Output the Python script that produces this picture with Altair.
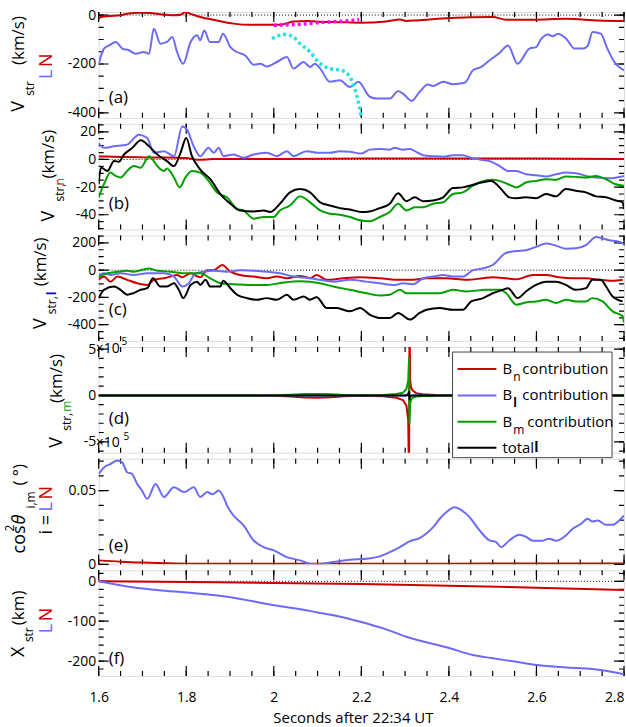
import altair as alt
import pandas as pd

FONT = "Open Sans"
W, H, GAP = 527, 106, 6
T_DOMAIN = [1.6, 2.8]

RED, BLUE, GREEN, BLACK = "#CC0000", "#6B6BF5", "#00A000", "#000000"
MAGENTA, CYAN = "#FF00FF", "#1EE3E3"

X_MAJOR = [1.6, 1.8, 2.0, 2.2, 2.4, 2.6, 2.8]
X_MINOR = [1.6, 1.65, 1.7, 1.75, 1.8, 1.85, 1.9, 1.95, 2.0, 2.05, 2.1, 2.15, 2.2,
           2.25, 2.3, 2.35, 2.4, 2.45, 2.5, 2.55, 2.6, 2.65, 2.7, 2.75, 2.8]
X_TITLE = "Seconds after 22:34 UT"

# ---------------- (a) V_str in L (blue) and N (red) ----------------
a_red_t = [1.600, 1.605, 1.627, 1.650, 1.665, 1.696, 1.718, 1.741, 1.772, 1.787, 1.798, 1.810,
           1.832, 1.870, 1.908, 1.946, 1.984, 2.014, 2.045, 2.075, 2.101, 2.150, 2.197, 2.257,
           2.288, 2.303, 2.326, 2.402, 2.500, 2.531, 2.592, 2.667, 2.743, 2.800]
a_red_v = [-15, -8, -4, -1, 5, 9, 8, 3, -1, 1, 12, 5, -8, -22, -35, -40, -40, -40, -26, -24,
           -27, -29, -31, -26, -18, -24, -22, -12, -8, -19, -19, -15, -22, -24]
a_blue_t = [1.600, 1.612, 1.624, 1.639, 1.654, 1.669, 1.684, 1.703, 1.715, 1.726, 1.741, 1.756,
            1.768, 1.779, 1.793, 1.810, 1.825, 1.832, 1.841, 1.854, 1.874, 1.884, 1.901, 1.916,
            1.935, 1.954, 1.969, 1.984, 2.007, 2.030, 2.045, 2.068, 2.083, 2.094, 2.106, 2.128,
            2.151, 2.174, 2.193, 2.220, 2.235, 2.265, 2.284, 2.295, 2.315, 2.333, 2.352, 2.364,
            2.387, 2.409, 2.436, 2.455, 2.474, 2.493, 2.516, 2.535, 2.557, 2.584, 2.599, 2.611,
            2.626, 2.637, 2.649, 2.668, 2.687, 2.706, 2.717, 2.728, 2.747, 2.762, 2.778, 2.800]
a_blue_v = [-199, -137, -124, -110, -137, -144, -158, -151, -158, -56, -117, -110, -90, -151,
            -199, -110, -83, -103, -63, -110, -110, -76, -131, -151, -165, -203, -199, -210,
            -192, -171, -219, -192, -212, -199, -219, -273, -267, -294, -273, -335, -341, -341,
            -311, -321, -351, -314, -284, -290, -273, -283, -277, -226, -212, -185, -154, -124,
            -199, -137, -131, -97, -79, -87, -76, -97, -137, -137, -126, -69, -76, -137, -192, -226]
a_mag_t = [2.000, 2.030, 2.060, 2.100, 2.150, 2.195]
a_mag_v = [-42, -40, -38, -31, -26, -19]
a_cyan_t = [1.996, 2.010, 2.022, 2.035, 2.045, 2.060, 2.083, 2.102, 2.128, 2.155, 2.174, 2.185,
            2.193, 2.200]
a_cyan_v = [-97, -85, -79, -82, -90, -117, -151, -192, -219, -226, -253, -301, -355, -415]

# ---------------- (b) V_str,n contributions ----------------
b_red_t = [1.6, 1.65, 1.7, 1.75, 1.8, 1.83, 1.86, 1.9, 2.0, 2.2, 2.4, 2.6, 2.8]
b_red_v = [2.2, 1.8, 1.5, 1.4, 1.0, -0.3, 0.3, 0.4, 0.4, 0.7, 0.6, 0.6, 0.4]
b_blue_t = [1.600, 1.612, 1.635, 1.665, 1.692, 1.711, 1.726, 1.749, 1.772, 1.791, 1.802, 1.817,
            1.832, 1.851, 1.863, 1.874, 1.885, 1.908, 1.931, 1.954, 1.984, 2.007, 2.030, 2.045,
            2.075, 2.101, 2.128, 2.151, 2.174, 2.200, 2.219, 2.242, 2.265, 2.276, 2.295, 2.311,
            2.322, 2.341, 2.364, 2.387, 2.409, 2.432, 2.451, 2.470, 2.493, 2.516, 2.535, 2.554,
            2.576, 2.599, 2.622, 2.645, 2.667, 2.690, 2.713, 2.736, 2.766, 2.800]
b_blue_v = [11.9, 8.4, 9.5, 10.7, 17.9, 15.5, 4.8, 6.0, 2.4, 23.8, 21.4, 9.5, 2.4, 8.4, 4.8, 8.4,
            2.4, 3.6, 1.2, 3.6, 4.8, 2.4, 6.0, 2.4, 6.0, 4.8, 4.8, 6.0, 5.5, 4.3, 7.1, 7.6, 7.1,
            8.4, 7.1, 7.6, 6.0, 3.1, 2.4, 1.9, 3.1, 3.1, 1.2, 0.0, -1.2, -4.8, -8.3, -8.3, -10.7,
            -11.4, -12.4, -10.7, -9.5, -9.9, -11.9, -13.1, -13.6, -11.9]
b_green_t = [1.600, 1.612, 1.627, 1.639, 1.650, 1.665, 1.680, 1.696, 1.715, 1.734, 1.749, 1.756,
             1.772, 1.785, 1.798, 1.813, 1.832, 1.851, 1.870, 1.893, 1.916, 1.931, 1.954, 1.977,
             2.000, 2.014, 2.037, 2.060, 2.083, 2.106, 2.128, 2.151, 2.174, 2.197, 2.219, 2.242,
             2.265, 2.284, 2.303, 2.322, 2.341, 2.364, 2.387, 2.409, 2.432, 2.455, 2.474, 2.497,
             2.516, 2.535, 2.554, 2.576, 2.599, 2.622, 2.645, 2.667, 2.690, 2.713, 2.736, 2.759,
             2.781, 2.800]
b_green_v = [-27.4, -17.9, -9.5, -11.9, -13.1, -8.3, -4.8, -6.0, 2.4, -4.8, -8.3, -6.6, -13.1,
             -20.2, -13.1, -8.3, -9.5, -15.5, -23.8, -27.4, -35.7, -36.9, -42.8, -41.6, -41.6,
             -36.9, -33.3, -26.7, -31, -36.9, -39.3, -40, -41.6, -44, -44.7, -41.6, -38, -32,
             -36.9, -34.5, -34.5, -32, -31, -25, -23.8, -19, -16.1, -14.7, -15.5, -17.9, -20.2,
             -16.7, -15.5, -14.3, -14.7, -12.4, -12.6, -13.1, -11.9, -14.3, -17.9, -19]
b_black_t = [1.600, 1.605, 1.620, 1.635, 1.646, 1.658, 1.677, 1.696, 1.715, 1.734, 1.756, 1.772,
             1.787, 1.800, 1.813, 1.832, 1.855, 1.878, 1.901, 1.923, 1.954, 1.977, 1.992, 2.014,
             2.037, 2.060, 2.083, 2.106, 2.128, 2.151, 2.174, 2.200, 2.219, 2.242, 2.265, 2.284,
             2.303, 2.322, 2.341, 2.364, 2.387, 2.409, 2.432, 2.455, 2.474, 2.497, 2.516, 2.538,
             2.554, 2.576, 2.599, 2.622, 2.645, 2.667, 2.690, 2.713, 2.736, 2.759, 2.781, 2.797,
             2.800]
b_black_v = [-17.9, -5.9, -8.3, -1.2, -1.6, 3.6, 8.4, 13.8, 9.5, 3.6, -1.2, -4.8, 4.8, 15.5, 2.4,
             -7.3, -14.3, -25, -32, -36.9, -37.6, -36.9, -38, -32, -23.8, -21.4, -23.8, -31,
             -33.3, -35.2, -36.2, -38, -37.6, -35.2, -32, -24.5, -30.2, -27.4, -30.2, -29.7,
             -27.4, -20.7, -20.2, -18.3, -16.7, -15.5, -20.2, -27.4, -28.1, -27.4, -28.1, -25,
             -26.7, -21.4, -22.6, -23.8, -26.7, -27.4, -29.7, -31, -36]

# ---------------- (c) V_str,l contributions ----------------
c_red_t = [1.600, 1.612, 1.627, 1.643, 1.665, 1.688, 1.711, 1.726, 1.749, 1.764, 1.779, 1.791,
           1.810, 1.832, 1.848, 1.863, 1.882, 1.901, 1.923, 1.954, 1.984, 2.007, 2.030, 2.060,
           2.083, 2.098, 2.121, 2.159, 2.197, 2.242, 2.288, 2.318, 2.349, 2.394, 2.440, 2.478,
           2.500, 2.531, 2.554, 2.592, 2.622, 2.652, 2.683, 2.713, 2.743, 2.774, 2.797]
c_red_v = [-71, -47, -84, -47, -71, -96, -108, -71, -59, -47, -35, -52, -23, -52, 0, 0, 38, -11,
           -35, -47, -59, -47, -59, -42, -59, -35, -71, -59, -52, -59, -71, -71, -59, -59, -71,
           -59, -52, -59, -66, -35, -35, -52, -59, -59, -71, -78, -71]
c_blue_t = [1.600, 1.612, 1.627, 1.650, 1.680, 1.711, 1.726, 1.749, 1.772, 1.791, 1.806, 1.821,
            1.840, 1.863, 1.893, 1.923, 1.954, 1.984, 2.014, 2.045, 2.060, 2.083, 2.106, 2.136,
            2.174, 2.212, 2.242, 2.276, 2.295, 2.318, 2.341, 2.364, 2.387, 2.409, 2.432, 2.455,
            2.478, 2.500, 2.531, 2.554, 2.576, 2.599, 2.622, 2.640, 2.667, 2.690, 2.713, 2.736,
            2.766, 2.790, 2.800]
c_blue_v = [-35, -23, -35, -23, -35, -23, -23, -23, -47, -120, -96, -23, -11, -4, -11, 0, -4, -11,
            -23, -47, -52, -59, -71, -84, -71, -84, -96, -108, -96, -103, -59, -47, -35, -47, -47,
            0, 13, 38, 128, 140, 146, 171, 195, 185, 158, 160, 183, 243, 220, 207, 190]
c_green_t = [1.600, 1.620, 1.643, 1.665, 1.680, 1.715, 1.734, 1.764, 1.802, 1.832, 1.855, 1.878,
             1.908, 1.954, 1.984, 2.022, 2.060, 2.106, 2.136, 2.174, 2.212, 2.242, 2.265, 2.288,
             2.303, 2.341, 2.379, 2.409, 2.440, 2.485, 2.516, 2.531, 2.554, 2.576, 2.599, 2.622,
             2.645, 2.667, 2.690, 2.713, 2.728, 2.751, 2.774, 2.797, 2.800]
c_green_v = [-47, -23, -11, -4, -11, 13, -4, -11, -23, -23, -60, -96, -103, -108, -108, -91, -82,
             -96, -120, -144, -169, -186, -180, -144, -169, -169, -169, -144, -156, -144, -144,
             -169, -253, -237, -229, -217, -241, -217, -229, -229, -205, -229, -302, -338, -385]
c_black_t = [1.600, 1.612, 1.635, 1.650, 1.665, 1.680, 1.696, 1.711, 1.724, 1.741, 1.756, 1.772,
             1.783, 1.793, 1.810, 1.825, 1.832, 1.844, 1.855, 1.878, 1.884, 1.901, 1.916, 1.939,
             1.961, 1.984, 2.007, 2.030, 2.045, 2.068, 2.083, 2.098, 2.121, 2.144, 2.174, 2.197,
             2.219, 2.242, 2.265, 2.284, 2.311, 2.333, 2.349, 2.379, 2.409, 2.432, 2.451, 2.478,
             2.500, 2.523, 2.535, 2.557, 2.576, 2.599, 2.622, 2.645, 2.667, 2.690, 2.713, 2.728,
             2.747, 2.759, 2.774, 2.797]
c_black_v = [-205, -144, -120, -144, -180, -168, -144, -132, -60, -120, -120, -96, -144, -205,
             -108, -84, -108, -71, -120, -120, -77, -132, -180, -205, -217, -205, -217, -180,
             -217, -193, -217, -198, -278, -278, -302, -278, -326, -350, -350, -314, -362, -314,
             -290, -278, -290, -290, -229, -205, -169, -144, -132, -205, -156, -108, -84, -84,
             -108, -144, -132, -71, -71, -120, -193, -229]

# ---------------- (d) V_str,m contributions ----------------
d_red_t = [1.60, 1.95, 2.00, 2.04, 2.07, 2.10, 2.13, 2.16, 2.20, 2.25, 2.28, 2.295, 2.303, 2.307,
           2.3090, 2.3100, 2.3115, 2.314, 2.318, 2.325, 2.34, 2.37, 2.42, 2.50, 2.80]
d_red_v = [0, 0, -3e3, -1.2e4, -2.2e4, -2.5e4, -2.0e4, -8e3, -4e3, -1e4, -2.5e4, -5e4, -1.1e5,
           -2.6e5, -9e5, 9e5, 1.6e5, 8e4, 5e4, 2.5e4, 1.2e4, 5e3, 2e3, 0, 0]
d_blue_t = [1.60, 2.80]
d_blue_v = [0, 0]
d_green_t = [1.60, 1.95, 2.00, 2.04, 2.07, 2.10, 2.13, 2.16, 2.20, 2.25, 2.28, 2.295, 2.303,
             2.307, 2.3090, 2.3100, 2.3115, 2.314, 2.318, 2.325, 2.34, 2.37, 2.42, 2.50, 2.80]
d_green_v = [0, 0, 2e3, 8e3, 1.5e4, 1.6e4, 1.2e4, 5e3, 2e3, 6e3, 1.5e4, 3e4, 7e4, 1.6e5, 4e5,
             -3e5, -9e4, -4e4, -2.5e4, -1.2e4, -6e3, -3e3, -1e3, 0, 0]
d_black_t = [1.60, 2.300, 2.306, 2.3090, 2.3100, 2.312, 2.318, 2.80]
d_black_v = [0, 0, 5e3, 4e4, -4e4, -5e3, 0, 0]
legend_labels = ["contribution", "contribution", "contribution", "total"]
legend_subs = ["n", "l", "m", ""]

# ---------------- (e) cos^2 theta ----------------
e_red_t = [1.6, 1.65, 1.7, 1.75, 1.8, 1.9, 2.0, 2.2, 2.4, 2.6, 2.8]
e_red_v = [0.0027, 0.0018, 0.0012, 0.0008, 0.0005, 0.0004, 0.0004, 0.0005, 0.0005, 0.0006, 0.0006]
e_blue_t = [1.600, 1.612, 1.627, 1.643, 1.654, 1.665, 1.676, 1.688, 1.699, 1.711, 1.730, 1.749,
            1.772, 1.795, 1.817, 1.832, 1.848, 1.860, 1.874, 1.885, 1.893, 1.908, 1.931, 1.954,
            1.977, 2.000, 2.030, 2.060, 2.083, 2.106, 2.136, 2.174, 2.212, 2.242, 2.265, 2.288,
            2.311, 2.333, 2.352, 2.364, 2.379, 2.394, 2.413, 2.432, 2.447, 2.470, 2.493, 2.508,
            2.519, 2.538, 2.561, 2.576, 2.592, 2.614, 2.629, 2.645, 2.667, 2.683, 2.702, 2.717,
            2.728, 2.740, 2.759, 2.774, 2.789, 2.800]
e_blue_v = [0.0613, 0.0657, 0.068, 0.0703, 0.069, 0.0624, 0.0613, 0.0545, 0.050, 0.0444, 0.0545,
            0.0457, 0.0522, 0.049, 0.0522, 0.0457, 0.049, 0.0475, 0.050, 0.0457, 0.040, 0.0331,
            0.0264, 0.0162, 0.0117, 0.0095, 0.0049, 0.0027, 0.0005, 0.0003, 0.0016, 0.0032,
            0.0038, 0.0054, 0.0083, 0.0117, 0.0157, 0.0178, 0.0218, 0.0252, 0.0309, 0.0353,
            0.0387, 0.036, 0.032, 0.023, 0.0162, 0.0151, 0.0117, 0.0162, 0.0201, 0.0187, 0.016,
            0.016, 0.0174, 0.016, 0.0196, 0.0241, 0.0275, 0.0309, 0.029, 0.0297, 0.0268, 0.0268,
            0.0297, 0.0331]

# ---------------- (f) X_str ----------------
f_red_t = [1.6, 1.8, 2.0, 2.2, 2.4, 2.6, 2.8]
f_red_v = [0, -2, -4, -7, -11, -16, -22]
f_blue_t = [1.600, 1.689, 1.788, 1.901, 2.000, 2.060, 2.100, 2.136, 2.200, 2.250, 2.303, 2.402,
            2.455, 2.500, 2.554, 2.601, 2.667, 2.728, 2.800]
f_blue_v = [0, -17, -27, -40, -60, -70, -78, -85, -102, -118, -139, -168, -185, -193, -202,
            -210, -216, -220, -233]

ONE = pd.DataFrame({"k": [0]})
XS = alt.Scale(domain=T_DOMAIN, nice=False, zero=False)
MAJOR_LEN, MINOR_LEN = 10, 5


def yscale(dom):
    return alt.Scale(domain=dom, nice=False, zero=False)


def curve(t, v, ys, color, width=2.0, dash=None, interp="monotone"):
    props = dict(color=color, strokeWidth=width, clip=True, strokeJoin="round",
                 interpolate=interp)
    if dash is not None:
        props.update(strokeDash=dash, strokeCap="butt")
    return alt.Chart(pd.DataFrame({"t": t, "v": v})).mark_line(**props).encode(
        x=alt.X("t:Q", scale=XS, axis=None),
        y=alt.Y("v:Q", scale=ys, axis=None))


def zero_line(ys):
    return alt.Chart(pd.DataFrame({"v": [0]})).mark_rule(
        color="black", strokeWidth=1, strokeDash=[1, 2]).encode(
        y=alt.Y("v:Q", scale=ys, axis=None))


def text(s, x, y, size=18, color="black", angle=0, align="left", baseline="middle",
         style="normal", weight="normal"):
    return alt.Chart(ONE).mark_text(
        text=s, fontSize=size, color=color, angle=angle, align=align, baseline=baseline,
        font=FONT, fontStyle=style, fontWeight=weight).encode(
        x=alt.value(x), y=alt.value(y))


def inward_ticks(ys, y_major, y_minor):
    """Tick marks drawn inside the frame on all four sides."""
    out = []
    # y ticks: a full-width rule per tick value, dashed so that only a short
    # stub at each end of the frame is inked
    for vals, size in ((y_major, MAJOR_LEN), (y_minor, MINOR_LEN)):
        out.append(alt.Chart(pd.DataFrame({"v": vals})).mark_rule(
            color="black", strokeWidth=1.2, strokeDash=[size, W - 2 * size, size, 0]).encode(
            y=alt.Y("v:Q", scale=ys, axis=None)))
    for vals, size in ((X_MAJOR, MAJOR_LEN), (X_MINOR, MINOR_LEN)):
        src = alt.Chart(pd.DataFrame({"t": vals}))
        xenc = alt.X("t:Q", scale=XS, axis=None)
        for yc in (size / 2, H - size / 2):
            out.append(src.mark_tick(color="black", thickness=1.2, size=size, opacity=1,
                                     orient="vertical").encode(x=xenc, y=alt.value(yc)))
    return out


def label_axes(ys, ydom, y_major, label_expr, bottom=False):
    carrier = pd.DataFrame({"t": T_DOMAIN, "v": ydom})

    def lay(xaxis=None, yaxis=None):
        return alt.Chart(carrier).mark_point(opacity=0, size=1).encode(
            x=alt.X("t:Q", scale=XS, axis=xaxis),
            y=alt.Y("v:Q", scale=ys, axis=yaxis))

    layers = [
        lay(yaxis=alt.Axis(orient="left", values=y_major, ticks=False, domain=False, grid=False,
                           title=None, labelExpr=label_expr, labelFont=FONT, labelFontSize=14,
                           labelColor="black", labelPadding=3)),
    ]
    if bottom:
        layers.append(lay(xaxis=alt.Axis(
            orient="bottom", values=X_MAJOR, ticks=False, domain=False, grid=False,
            title=X_TITLE, labelExpr="toString(datum.value)", labelFlush=False,
            labelAlign={"condition": {"test": "datum.value > 2.75", "value": "right"},
                        "value": "center"},
            labelFont=FONT, labelFontSize=14, labelColor="black", labelPadding=15,
            titleFont=FONT, titleFontSize=15, titleFontWeight="normal", titleColor="black",
            titlePadding=6, titleX=255)))
    return layers


def panel(ydom, y_major, y_minor, label_expr, content, bottom=False):
    ys = yscale(ydom)
    layers = (inward_ticks(ys, y_major, y_minor) + content(ys)
              + label_axes(ys, ydom, y_major, label_expr, bottom))
    return alt.layer(*layers).properties(width=W, height=H).resolve_axis(
        x="independent", y="independent")


NUM = "toString(datum.value)"


def content_a(ys):
    return [
        zero_line(ys),
        curve(a_red_t, a_red_v, ys, RED),
        curve(a_blue_t, a_blue_v, ys, BLUE),
        curve(a_mag_t, a_mag_v, ys, MAGENTA, 3.5, [3, 3]),
        curve(a_cyan_t, a_cyan_v, ys, CYAN, 3.5, [3, 3]),
        text("(a)", 10, 86, 17),
        text("V", -80, 100, 18, angle=270),
        text("str", -69, 84, 12, angle=270),
        text("(km/s)", -80, 53, 17, angle=270),
        text("L", -52, 67, 18, BLUE, angle=270),
        text("N", -52, 55, 18, RED, angle=270),
        # keeps a fixed margin to the left of and above the plot
        alt.Chart(ONE).mark_rule(opacity=0, strokeWidth=0.1).encode(
            x=alt.value(-98), y=alt.value(-10), y2=alt.value(0)),
    ]


def content_b(ys):
    return [
        zero_line(ys),
        curve(b_red_t, b_red_v, ys, RED),
        curve(b_blue_t, b_blue_v, ys, BLUE),
        curve(b_green_t, b_green_v, ys, GREEN),
        curve(b_black_t, b_black_v, ys, BLACK),
        text("(b)", 10, 81, 17),
        text("V", -50, 98, 18, angle=270),
        text("str,", -39, 78, 12, angle=270),
        text("n", -39, 62, 12, RED, angle=270),
        text("(km/s)", -50, 55, 17, angle=270),
    ]


def content_c(ys):
    return [
        zero_line(ys),
        curve(c_red_t, c_red_v, ys, RED),
        curve(c_blue_t, c_blue_v, ys, BLUE),
        curve(c_green_t, c_green_v, ys, GREEN),
        curve(c_black_t, c_black_v, ys, BLACK),
        text("(c)", 10, 75, 17),
        text("V", -58, 94, 18, angle=270),
        text("str,", -47, 79, 12, angle=270),
        text("l", -47, 60, 12, "#0000FF", angle=270, weight="bold"),
        text("(km/s)", -58, 51, 17, angle=270),
    ]


def content_d(ys):
    ly = [22, 48.5, 75, 101]
    cols = [RED, BLUE, GREEN, BLACK]
    items = [
        zero_line(ys),
        curve(d_red_t, d_red_v, ys, RED, interp="linear"),
        curve(d_blue_t, d_blue_v, ys, BLUE, interp="linear"),
        curve(d_green_t, d_green_v, ys, GREEN, interp="linear"),
        curve(d_black_t, d_black_v, ys, BLACK, interp="linear"),
        text("(d)", 10, 72, 17),
        text("×10", -3, 2, 14),
        text("5", 23, -5, 10),
        text("×10", -3, 96, 14),
        text("5", 25, 90, 10),
        text("V", -42, 101, 18, angle=270),
        text("str,", -32, 84, 12, angle=270),
        text("m", -32, 65, 12, GREEN, angle=270),
        text("(km/s)", -42, 56, 17, angle=270),
        alt.Chart(ONE).mark_rect(fill="white", stroke="#444444", strokeWidth=1).encode(
            x=alt.value(355), x2=alt.value(515), y=alt.value(5), y2=alt.value(111)),
    ]
    for i in range(4):
        items.append(alt.Chart(ONE).mark_rule(color=cols[i], strokeWidth=2).encode(
            x=alt.value(360), x2=alt.value(399), y=alt.value(ly[i])))
        if legend_subs[i]:
            items.append(text("B", 405, ly[i], 15))
            items.append(text(legend_subs[i], 416, ly[i] + 8, 12,
                              weight="bold" if legend_subs[i] == "l" else "normal"))
            items.append(text(legend_labels[i], 425 if legend_subs[i] != "m" else 430, ly[i], 15))
        else:
            items.append(text(legend_labels[i], 405, ly[i], 15))
            items.append(text("l", 437, ly[i], 14, weight="bold"))
    return items


def content_e(ys):
    return [
        curve(e_red_t, e_red_v, ys, RED),
        curve(e_blue_t, e_blue_v, ys, BLUE),
        text("(e)", 10, 88, 17),
        text("cos", -79, 95, 18, angle=270),
        text("2", -89, 73, 12, angle=270),
        text("θ", -79, 66, 18, angle=270, style="italic"),
        text("i,m", -68, 50, 12, angle=270),
        text("( °)", -79, 27, 17, angle=270),
        text("i = ", -52, 76, 18, angle=270),
        text("L", -52, 53, 18, BLUE, angle=270),
        text("N", -52, 41, 18, RED, angle=270),
    ]


def content_f(ys):
    return [
        zero_line(ys),
        curve(f_red_t, f_red_v, ys, RED),
        curve(f_blue_t, f_blue_v, ys, BLUE),
        text("(f)", 10, 89, 17),
        text("X", -80, 87, 18, angle=270),
        text("str", -70, 72, 12, angle=270),
        text("(km)", -80, 55, 17, angle=270),
        text("L", -52, 63, 18, BLUE, angle=270),
        text("N", -52, 51, 18, RED, angle=270),
    ]


pa = panel([-420, 12], [-400, -200, 0], list(range(-400, 1, 50)), NUM, content_a)
pb = panel([-50.6, 25.8], [-40, -20, 0, 20], list(range(-50, 26, 5)), NUM, content_b)
pc = panel([-520, 255], [-400, -200, 0, 200], list(range(-500, 251, 50)), NUM, content_c)
pd_ = panel([-6.18e5, 5.22e5], [-5e5, 0, 5e5], [i * 1e5 for i in range(-6, 6)],
            "datum.value == 0 ? '0' : (datum.value > 0 ? '5' : '-5')", content_d)
pe = panel([0, 0.0716], [0, 0.05], [0, 0.01, 0.02, 0.03, 0.04, 0.05, 0.06, 0.07], NUM, content_e)
pf = panel([-237.5, 27.5], [-200, -100, 0], list(range(-220, 21, 20)), NUM, content_f, bottom=True)

chart = alt.vconcat(pa, pb, pc, pd_, pe, pf, spacing=GAP, bounds="flush").properties(
    padding={"left": 0, "top": 0, "right": 0, "bottom": 0}
).configure_view(stroke="black", strokeWidth=1).configure(font=FONT)

chart.save("out.html", embed_options={"renderer": "svg", "actions": False})
